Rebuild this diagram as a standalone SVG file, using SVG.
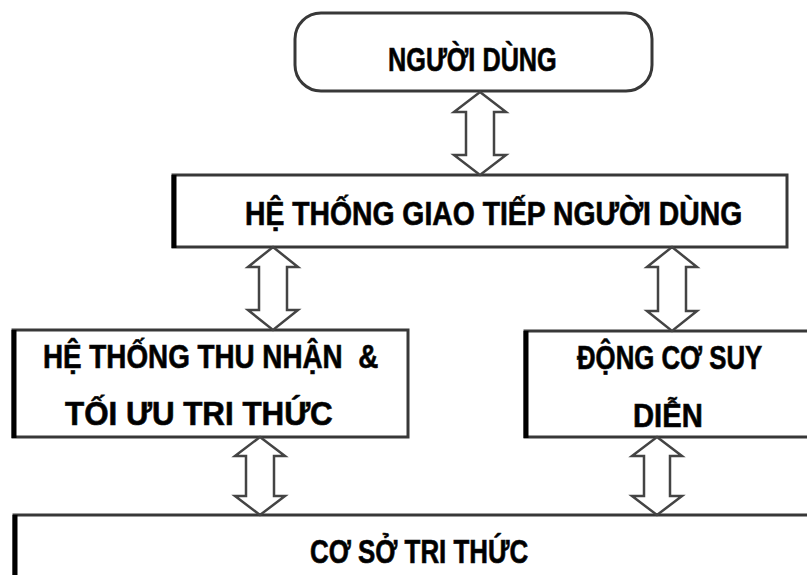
<svg xmlns="http://www.w3.org/2000/svg" width="807" height="575" viewBox="0 0 807 575">
<style>
.box{fill:#fff;stroke:#383838;stroke-width:3}
.edge{stroke:#000;stroke-width:5;fill:none}
.lbl{font-family:"Liberation Sans",Arial,sans-serif;font-weight:bold;font-size:34px;fill:#000;stroke:#111;stroke-width:0.7}
.arr{fill:#fff;stroke:#444;stroke-width:2.5;stroke-linejoin:miter}
</style>
<rect width="807" height="575" fill="#fff"/>
<g id="nguoi-dung">
<rect class="box" x="295" y="13" width="357" height="78" rx="26"/>
<text class="lbl" transform="translate(388,71) scale(0.75,1)" x="0" y="0" textLength="225" lengthAdjust="spacingAndGlyphs">NGƯỜI DÙNG</text>
</g>
<g id="giao-tiep">
<rect class="box" x="173" y="175" width="614" height="72"/>
<line class="edge" x1="174" y1="175" x2="174" y2="248"/>
<text class="lbl" transform="translate(245,225) scale(0.75,1)" x="0" y="0" textLength="663" lengthAdjust="spacingAndGlyphs">HỆ THỐNG GIAO TIẾP NGƯỜI DÙNG</text>
</g>
<g id="thu-nhan">
<rect class="box" x="13" y="330" width="395" height="107"/>
<line class="edge" x1="14" y1="330" x2="14" y2="438"/>
<text class="lbl" transform="translate(43,368) scale(0.75,1)" x="0" y="0" textLength="447" lengthAdjust="spacingAndGlyphs" xml:space="preserve">HỆ THỐNG THU NHẬN  &amp;</text>
<text class="lbl" transform="translate(65,425) scale(0.75,1)" x="0" y="0" textLength="357" lengthAdjust="spacingAndGlyphs">TỐI ƯU TRI THỨC</text>
</g>
<g id="suy-dien">
<rect class="box" x="525" y="331" width="295" height="106"/>
<line class="edge" x1="526" y1="331" x2="526" y2="438"/>
<text class="lbl" transform="translate(577,369) scale(0.75,1)" x="0" y="0" textLength="247" lengthAdjust="spacingAndGlyphs">ĐỘNG CƠ SUY</text>
<text class="lbl" transform="translate(633,427) scale(0.75,1)" x="0" y="0" textLength="93" lengthAdjust="spacingAndGlyphs">DIỄN</text>
</g>
<g id="co-so">
<rect class="box" x="14" y="515" width="810" height="80"/>
<line class="edge" x1="15" y1="515" x2="15" y2="580"/>
<text class="lbl" transform="translate(310,563) scale(0.75,1)" x="0" y="0" textLength="291" lengthAdjust="spacingAndGlyphs">CƠ SỞ TRI THỨC</text>
</g>
<g id="connectors">
<polygon class="arr" points="480,92 506,112 494,112 494,155 506,155 480,175 454,155 466,155 466,112 454,112"/>
<polygon class="arr" points="273,247 298,267 287,267 287,310 298,310 273,330 248,310 259,310 259,267 248,267"/>
<polygon class="arr" points="672,247 697,267 686,267 686,311 697,311 672,331 647,311 658,311 658,267 647,267"/>
<polygon class="arr" points="260,437 285,456 274,456 274,496 285,496 260,515 235,496 246,496 246,456 235,456"/>
<polygon class="arr" points="657,437 682,456 670,456 670,496 682,496 657,515 632,496 644,496 644,456 632,456"/>
</g>
</svg>
